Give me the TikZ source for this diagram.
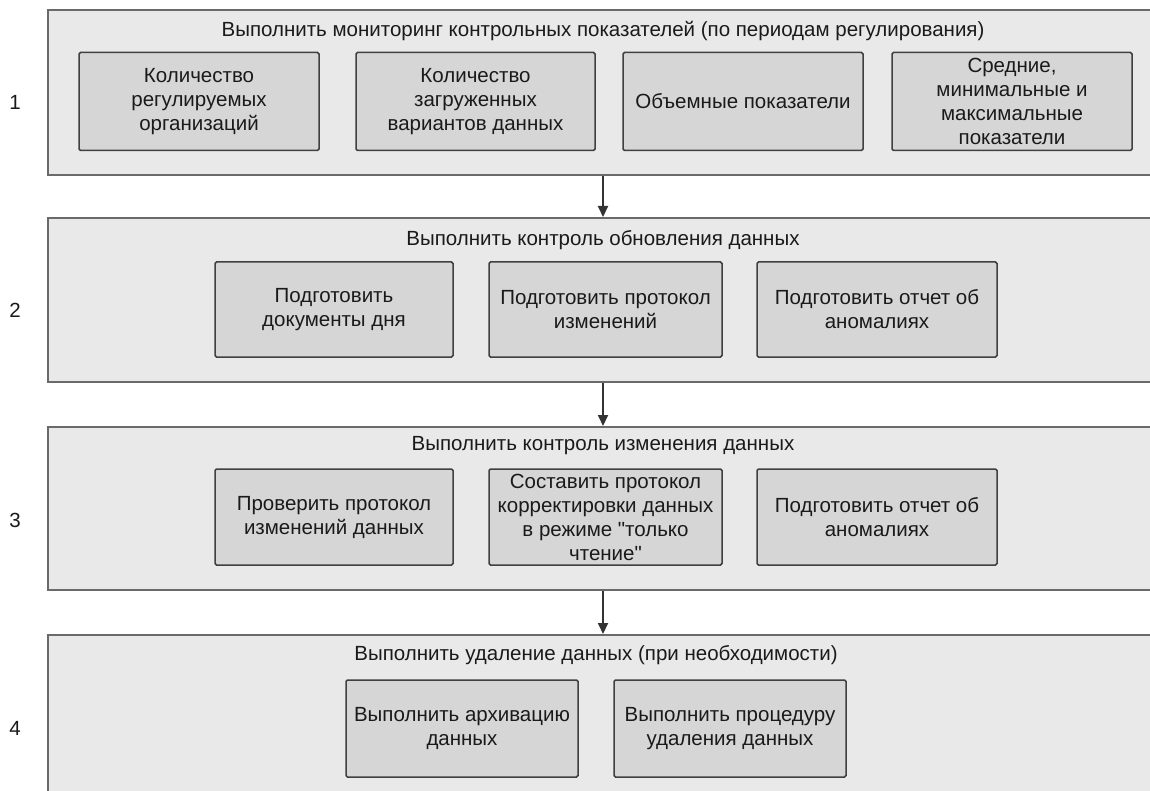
\documentclass[tikz,border=0pt]{standalone}
\usepackage{fontspec}
\setmainfont{Liberation Sans}[Ligatures=TeXOff]
\usetikzlibrary{arrows.meta}
\definecolor{outerfill}{HTML}{E9E9E9}
\definecolor{innerfill}{HTML}{D6D6D6}
\definecolor{outerline}{HTML}{6A6A6A}
\definecolor{innerline}{HTML}{404040}
\definecolor{txt}{HTML}{1A1A1A}
\begin{document}
\begin{tikzpicture}[x=1pt,y=-1pt,
  every node/.style={font=\fontsize{20.5}{24}\selectfont, text=txt},
  outerbox/.style={draw=outerline, fill=outerfill, line width=2pt, minimum width=1110pt, inner sep=0pt},
  innerbox/.style={draw=innerline, fill=innerfill, line width=1.5pt, rounded corners=1.5pt, inner sep=0pt, align=center, minimum height=98pt},
  ttl/.style={inner sep=0pt},
  num/.style={inner sep=0pt},
  flow/.style={draw=black!80, line width=2pt, -{Triangle[length=11pt,width=10pt]}}
]
\useasboundingbox (0,0) rectangle (1150,791);
\begin{scope}
\clip (0,0) rectangle (1150,791);
% outer boxes
\node[outerbox, minimum height=165pt] (o1) at (603,92.5) {};
\node[outerbox, minimum height=164pt] (o2) at (603,300) {};
\node[outerbox, minimum height=163pt] (o3) at (603,508.5) {};
\node[outerbox, minimum height=170pt] (o4) at (603,720) {};
\end{scope}

% titles
\node[ttl] (t1) at (603,31) {Выполнить мониторинг контрольных показателей (по периодам регулирования)};
\node[ttl] (t2) at (603,240) {Выполнить контроль обновления данных};
\node[ttl] (t3) at (603,446) {Выполнить контроль изменения данных};
\node[ttl] (t4) at (596,655) {Выполнить удаление данных (при необходимости)};

% numbers
\node[num] (n1) at (15,102) {1};
\node[num] (n2) at (15,310) {2};
\node[num] (n3) at (15,520) {3};
\node[num] (n4) at (15,728) {4};

% row 1
\node[innerbox, minimum width=240pt] (a1) at (199,101.5) {Количество\\регулируемых\\организаций};
\node[innerbox, minimum width=239pt] (b1) at (475.5,101.5) {Количество\\загруженных\\вариантов данных};
\node[innerbox, minimum width=240pt] (c1) at (743,101.5) {Объемные показатели};
\node[innerbox, minimum width=240pt] (d1) at (1012,101.5) {Средние,\\минимальные и\\максимальные\\показатели};

% row 2
\node[innerbox, minimum width=238pt, minimum height=95pt] (a2) at (334,309.5) {Подготовить\\документы дня};
\node[innerbox, minimum width=233pt, minimum height=95pt] (b2) at (605.5,309.5) {Подготовить протокол\\изменений};
\node[innerbox, minimum width=240pt, minimum height=95pt] (c2) at (877,309.5) {Подготовить отчет об\\аномалиях};

% row 3
\node[innerbox, minimum width=238pt, minimum height=96pt] (a3) at (334,517) {Проверить протокол\\изменений данных};
\node[innerbox, minimum width=233pt, minimum height=96pt] (b3) at (605.5,517) {Составить протокол\\корректировки данных\\в режиме "только\\чтение"};
\node[innerbox, minimum width=240pt, minimum height=96pt] (c3) at (877,517) {Подготовить отчет об\\аномалиях};

% row 4
\node[innerbox, minimum width=232pt, minimum height=97pt] (a4) at (462,728.5) {Выполнить архивацию\\данных};
\node[innerbox, minimum width=232pt, minimum height=97pt] (b4) at (730,728.5) {Выполнить процедуру\\удаления данных};

% connectors
\draw[flow] (o1.south) -- (o2.north);
\draw[flow] (o2.south) -- (o3.north);
\draw[flow] (o3.south) -- (o4.north);
\end{tikzpicture}
\end{document}
